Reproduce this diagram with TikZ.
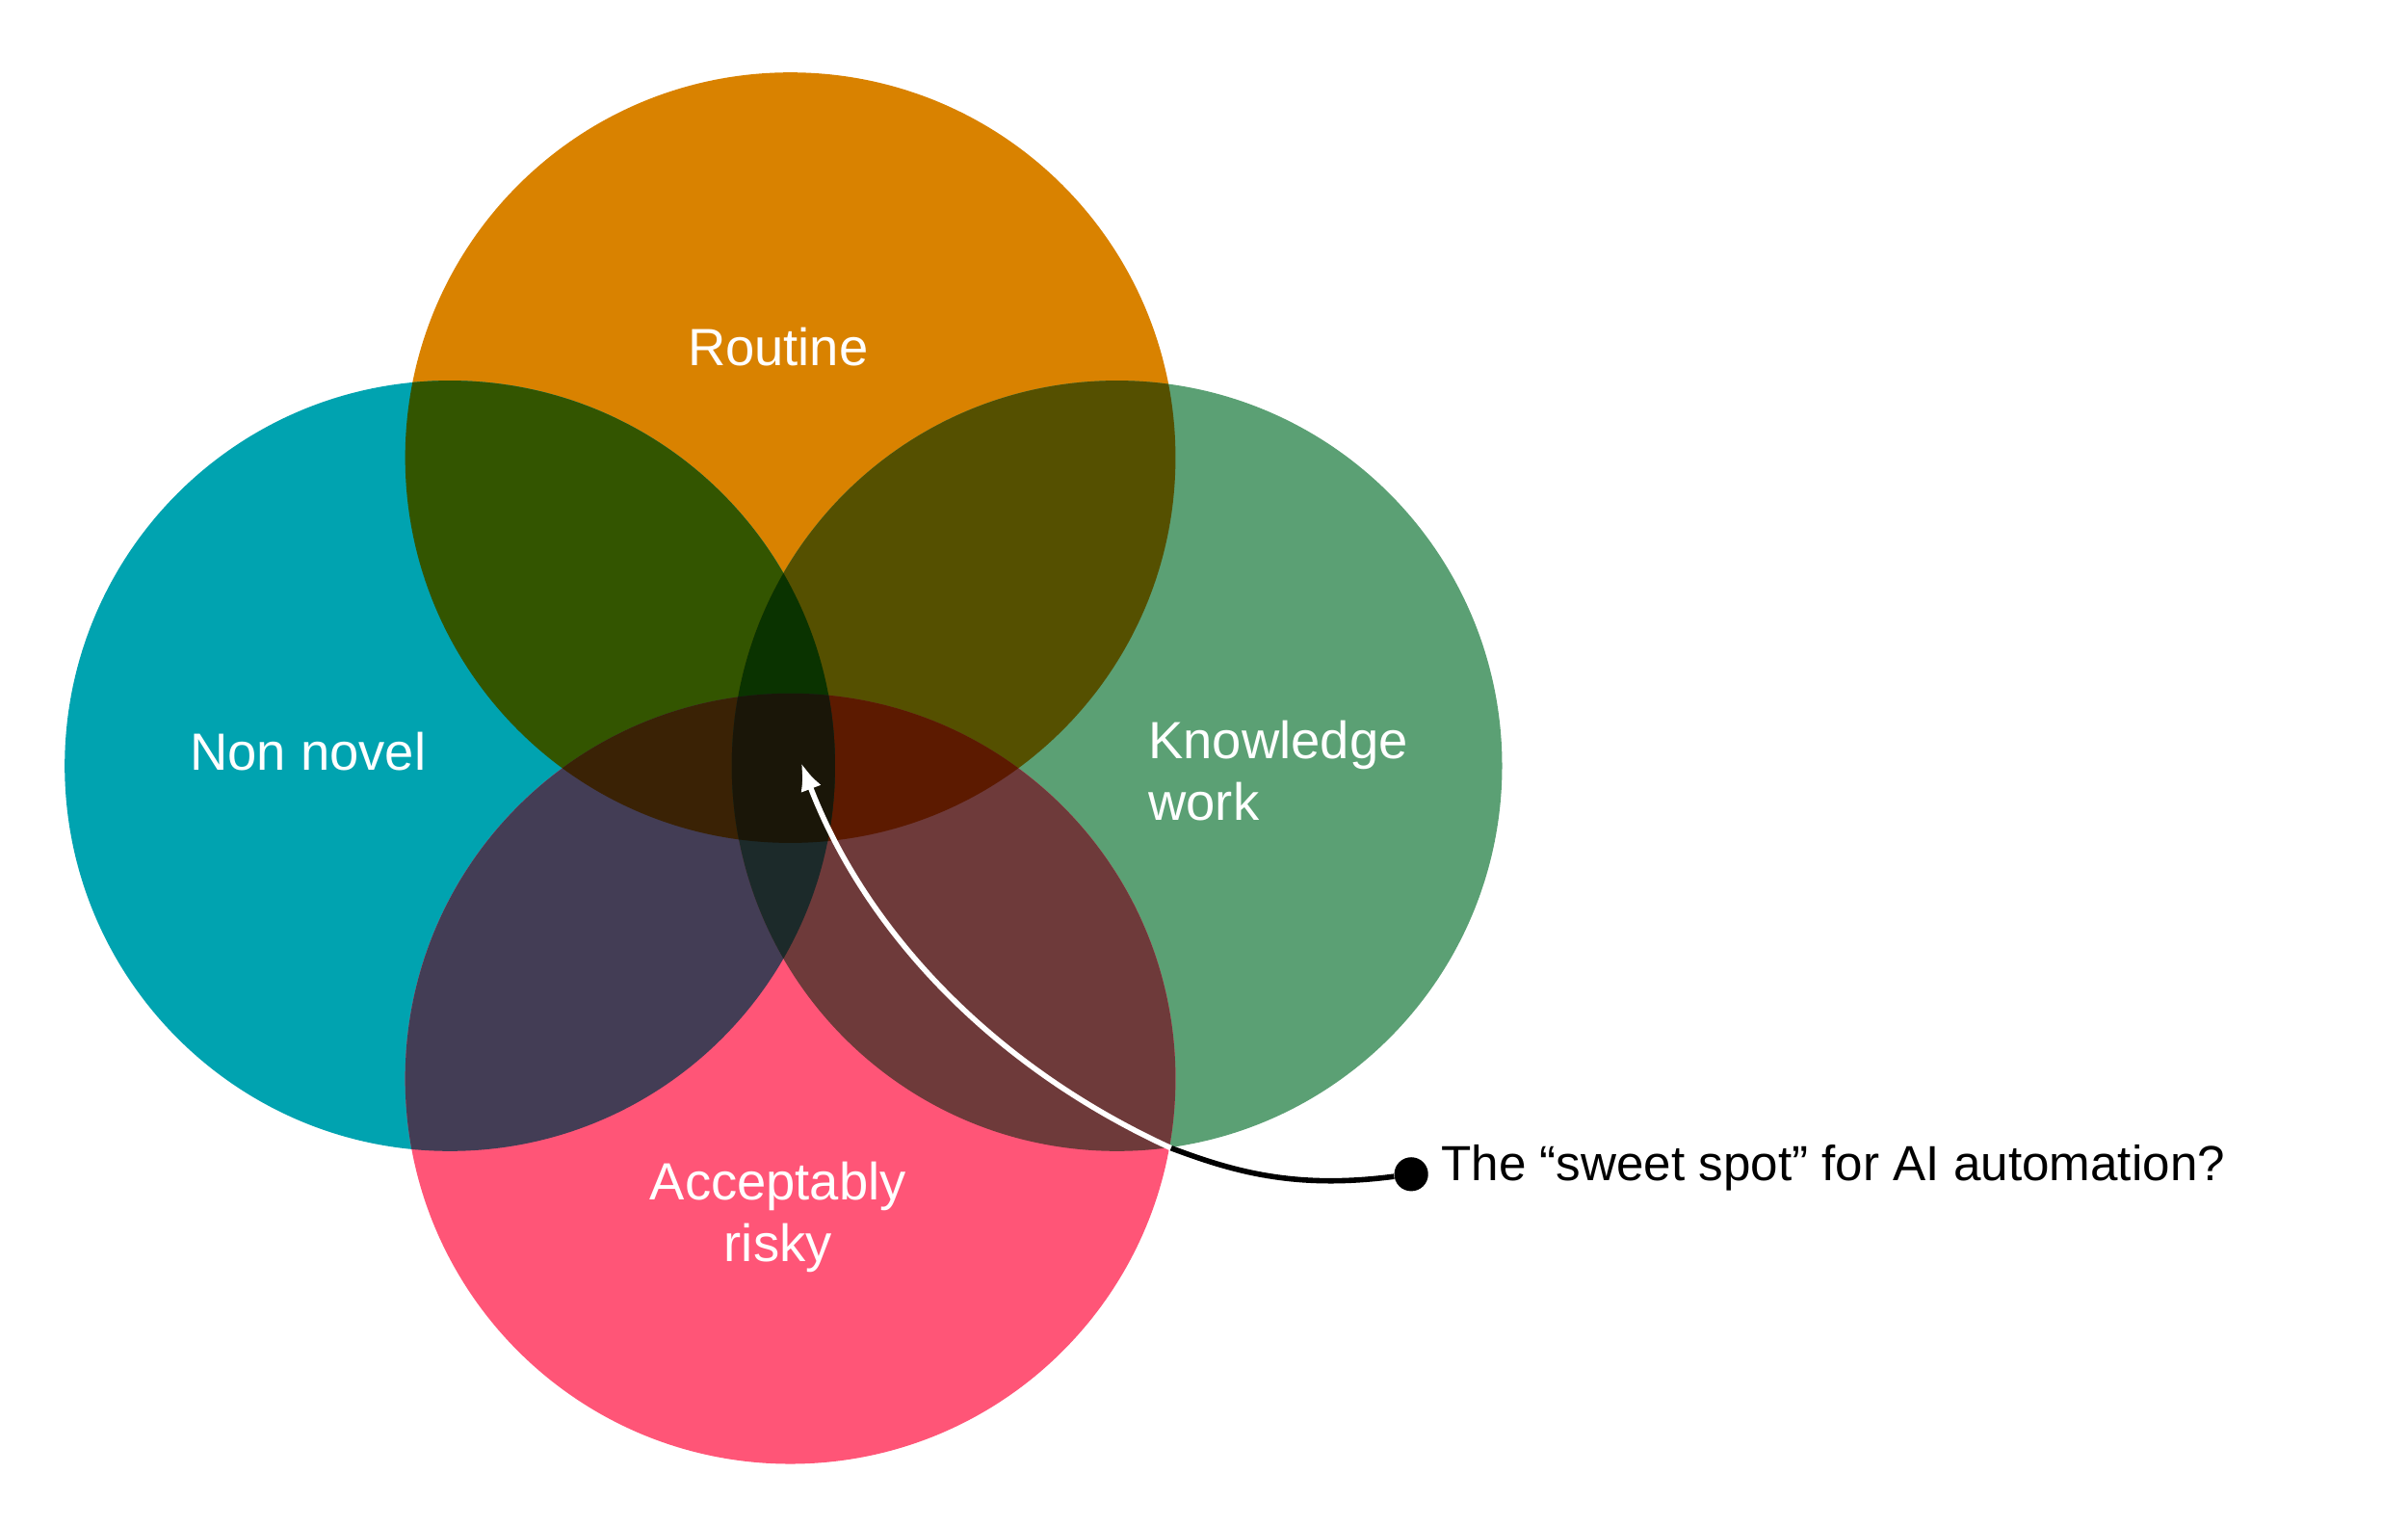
\documentclass[tikz,border=0pt]{standalone}
\usepackage{fontspec}
\setmainfont{Liberation Sans}
\usetikzlibrary{arrows.meta}
\definecolor{routineC}{HTML}{D98200}
\definecolor{novelC}{HTML}{00A3B0}
\definecolor{knowC}{HTML}{5BA074}
\definecolor{riskC}{HTML}{FF5577}
\definecolor{tlC}{HTML}{335500}
\definecolor{trC}{HTML}{555000}
\definecolor{lbC}{HTML}{433D55}
\definecolor{rbC}{HTML}{6E3A3A}
\definecolor{tlbC}{HTML}{3A2205}
\definecolor{trbC}{HTML}{5C1A00}
\definecolor{tlrC}{HTML}{0A3300}
\definecolor{lrbC}{HTML}{1C2A2A}
\definecolor{allC}{HTML}{1A1608}
\tikzset{
  lbl/.style={text=white,font=\fontsize{34}{40}\selectfont,align=left},
  note/.style={text=black,font=\fontsize{32}{38}\selectfont,anchor=west},
}
\newcommand{\circT}{(513,297) circle (250)}
\newcommand{\circL}{(292,497) circle (250)}
\newcommand{\circR}{(725,497) circle (250)}
\newcommand{\circB}{(513,700) circle (250)}
\begin{document}
\begin{tikzpicture}[x=1pt,y=-1pt]
    \useasboundingbox (0,0) rectangle (1563,990);
    % single sets
    \fill[routineC] \circT;
    \fill[novelC] \circL;
    \fill[knowC] \circR;
    \fill[riskC] \circB;
    % pairs
    \begin{scope}\clip \circT; \fill[tlC] \circL; \fill[trC] \circR; \end{scope}
    \begin{scope}\clip \circB; \fill[lbC] \circL; \fill[rbC] \circR; \end{scope}
    % triples
    \begin{scope}\clip \circT; \clip \circB; \fill[tlbC] \circL; \fill[trbC] \circR; \end{scope}
    \begin{scope}\clip \circL; \clip \circR; \fill[tlrC] \circT; \fill[lrbC] \circB; \end{scope}
    % all four
    \begin{scope}\clip \circT; \clip \circB; \clip \circL; \fill[allC] \circR; \end{scope}
    % labels
    \node[lbl] (routine) at (505,225) {Routine};
    \node[lbl] (novel) at (200,488) {Non novel};
    \node[lbl,anchor=west] (know) at (742,500) {Knowledge\\work};
    \node[lbl,align=center] (risk) at (505,790) {Acceptably\\risky};
    % pointer
    \node[circle,fill=black,inner sep=0pt,minimum size=22] (dot) at (916,762) {};
    \node[note] (sweet) at (932,758) {The “sweet spot” for AI automation?};
    \coordinate (edge) at (760,745);
    \coordinate (spot) at (520,495);
    \draw[line width=3.5pt,black] (dot) .. controls (840,772) and (800,760) .. (edge);
    \draw[line width=3.5pt,white,-{Latex[length=18pt,width=14pt]}] (edge) .. controls (640,690) and (560,600) .. (spot);
\end{tikzpicture}
\end{document}
